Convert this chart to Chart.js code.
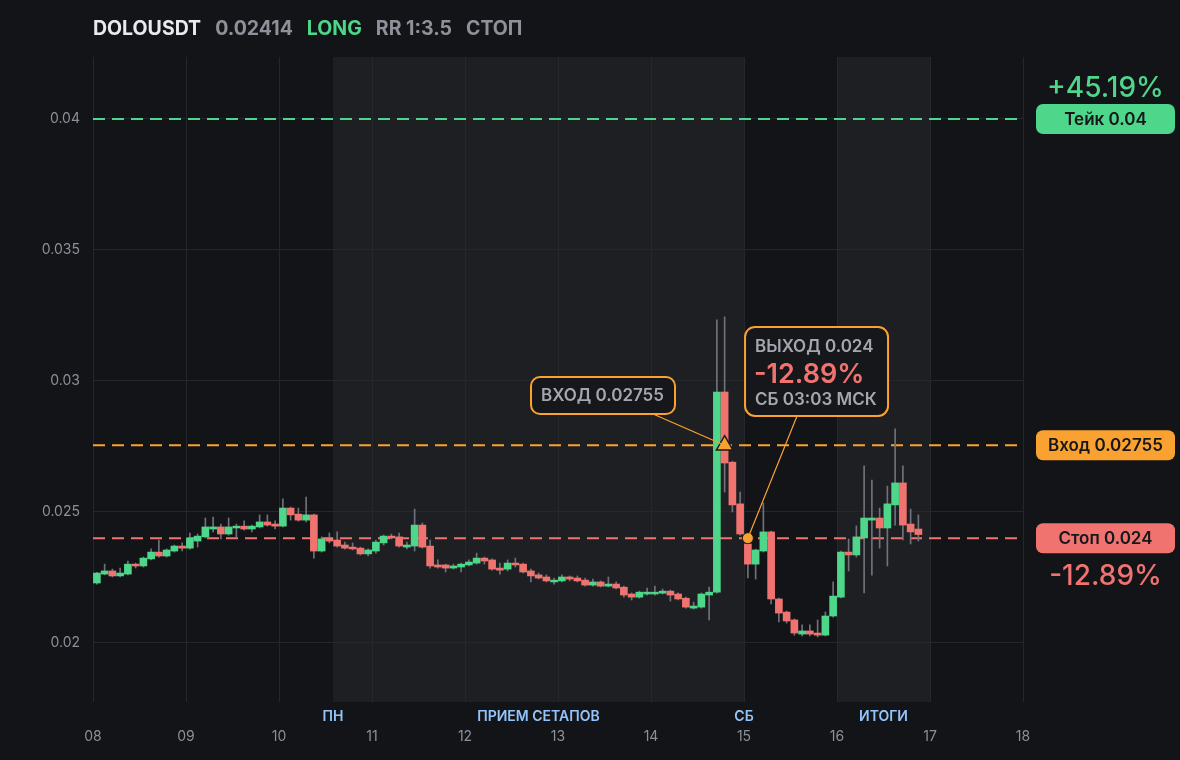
<!DOCTYPE html>
<html>
<head>
<meta charset="utf-8">
<script src="https://cdn.jsdelivr.net/npm/chart.js@4.4.1/dist/chart.umd.min.js"></script>
<style>
    html, body { margin: 0; padding: 0; background: #131418; }
    #wrap { position: relative; width: 1180px; height: 760px; }
    canvas { display: block; }
    #head {
        position: absolute; left: 93px; top: 16px;
        font: 700 19.5px Inter, sans-serif; line-height: 24px;
        display: flex; gap: 14px; color: #8e9199;
    }
    #head .sym { color: #e9eaec; }
    #head .side { color: #4ed68a; }
</style>
</head>
<body>
<div id="wrap">
    <canvas id="chart" width="1180" height="760"></canvas>
    <div id="head">
        <span class="sym">DOLOUSDT</span>
        <span id="last-price"></span>
        <span class="side">LONG</span>
        <span id="rr"></span>
        <span>СТОП</span>
    </div>
</div>
<script>
// 2h candles, 12 per day, first day = 08
const DAY_START = 8;
const CANDLES_PER_DAY = 12;

const opens = [
    0.02229, 0.02263, 0.02275, 0.02256, 0.02263, 0.02301, 0.02294, 0.02321, 0.02347, 0.02332, 0.02351, 0.02370,
    0.02362, 0.02389, 0.02405, 0.02435, 0.02443, 0.02416, 0.02439, 0.02446, 0.02435, 0.02443, 0.02462, 0.02454,
    0.02446, 0.02515, 0.02492, 0.02469, 0.02489, 0.02351, 0.02401, 0.02393, 0.02374, 0.02366, 0.02362, 0.02340,
    0.02351, 0.02382, 0.02408, 0.02405, 0.02366, 0.02370, 0.02450, 0.02370, 0.02298, 0.02298, 0.02286, 0.02290,
    0.02298, 0.02305, 0.02324, 0.02317, 0.02286, 0.02282, 0.02305, 0.02301, 0.02275, 0.02260, 0.02252, 0.02233,
    0.02237, 0.02252, 0.02248, 0.02240, 0.02221, 0.02233, 0.02217, 0.02225, 0.02213, 0.02187, 0.02175, 0.02187,
    0.02187, 0.02190, 0.02198, 0.02187, 0.02171, 0.02133, 0.02137, 0.02183, 0.02194, 0.02958, 0.02690, 0.02531,
    0.02378, 0.02301, 0.02351, 0.02424, 0.02168, 0.02118, 0.02088, 0.02034, 0.02046, 0.02038, 0.02030, 0.02103,
    0.02175, 0.02347, 0.02336, 0.02401, 0.02469, 0.02477, 0.02439, 0.02527, 0.02611, 0.02454, 0.02435
];
const highs = [
    0.02270, 0.02301, 0.02282, 0.02286, 0.02313, 0.02305, 0.02328, 0.02359, 0.02393, 0.02359, 0.02374, 0.02382,
    0.02420, 0.02416, 0.02477, 0.02481, 0.02454, 0.02477, 0.02454, 0.02466, 0.02450, 0.02489, 0.02489, 0.02466,
    0.02550, 0.02519, 0.02515, 0.02557, 0.02492, 0.02405, 0.02420, 0.02424, 0.02385, 0.02382, 0.02366, 0.02359,
    0.02393, 0.02412, 0.02416, 0.02420, 0.02385, 0.02511, 0.02458, 0.02393, 0.02317, 0.02301, 0.02301, 0.02305,
    0.02317, 0.02343, 0.02328, 0.02321, 0.02305, 0.02317, 0.02324, 0.02305, 0.02282, 0.02267, 0.02260, 0.02248,
    0.02260, 0.02256, 0.02256, 0.02248, 0.02244, 0.02237, 0.02252, 0.02233, 0.02217, 0.02191, 0.02198, 0.02210,
    0.02217, 0.02206, 0.02202, 0.02191, 0.02175, 0.02156, 0.02191, 0.02213, 0.03233, 0.03245, 0.02694, 0.02576,
    0.02401, 0.02358, 0.02534, 0.02427, 0.02171, 0.02122, 0.02092, 0.02069, 0.02069, 0.02088, 0.02118, 0.02233,
    0.02351, 0.02397, 0.02447, 0.02676, 0.02622, 0.02515, 0.02599, 0.02817, 0.02676, 0.02511, 0.02489
];
const lows = [
    0.02225, 0.02260, 0.02252, 0.02252, 0.02260, 0.02286, 0.02290, 0.02317, 0.02328, 0.02328, 0.02347, 0.02351,
    0.02358, 0.02366, 0.02401, 0.02424, 0.02397, 0.02412, 0.02405, 0.02431, 0.02424, 0.02439, 0.02446, 0.02435,
    0.02443, 0.02469, 0.02465, 0.02462, 0.02324, 0.02347, 0.02382, 0.02366, 0.02358, 0.02355, 0.02336, 0.02332,
    0.02343, 0.02374, 0.02397, 0.02366, 0.02359, 0.02351, 0.02362, 0.02286, 0.02286, 0.02271, 0.02282, 0.02271,
    0.02294, 0.02301, 0.02301, 0.02278, 0.02263, 0.02275, 0.02290, 0.02267, 0.02233, 0.02244, 0.02233, 0.02225,
    0.02233, 0.02237, 0.02233, 0.02217, 0.02217, 0.02214, 0.02214, 0.02206, 0.02175, 0.02164, 0.02171, 0.02183,
    0.02183, 0.02187, 0.02160, 0.02164, 0.02133, 0.02129, 0.02133, 0.02088, 0.02190, 0.02576, 0.02500, 0.02412,
    0.02248, 0.02244, 0.02347, 0.02149, 0.02080, 0.02076, 0.02030, 0.02027, 0.02027, 0.02023, 0.02027, 0.02099,
    0.02172, 0.02275, 0.02328, 0.02191, 0.02259, 0.02362, 0.02294, 0.02450, 0.02393, 0.02378, 0.02389
];
const closes = [
    0.02267, 0.02275, 0.02256, 0.02267, 0.02301, 0.02294, 0.02324, 0.02347, 0.02332, 0.02355, 0.02370, 0.02362,
    0.02401, 0.02408, 0.02443, 0.02443, 0.02416, 0.02443, 0.02446, 0.02435, 0.02446, 0.02462, 0.02450, 0.02446,
    0.02515, 0.02489, 0.02469, 0.02489, 0.02351, 0.02397, 0.02389, 0.02370, 0.02362, 0.02359, 0.02340, 0.02355,
    0.02385, 0.02408, 0.02401, 0.02370, 0.02374, 0.02450, 0.02366, 0.02294, 0.02290, 0.02286, 0.02294, 0.02301,
    0.02309, 0.02324, 0.02313, 0.02282, 0.02278, 0.02305, 0.02298, 0.02271, 0.02256, 0.02248, 0.02237, 0.02240,
    0.02252, 0.02244, 0.02237, 0.02221, 0.02233, 0.02217, 0.02225, 0.02210, 0.02183, 0.02175, 0.02194, 0.02194,
    0.02194, 0.02198, 0.02183, 0.02168, 0.02137, 0.02141, 0.02187, 0.02194, 0.02958, 0.02687, 0.02527, 0.02416,
    0.02301, 0.02355, 0.02424, 0.02168, 0.02114, 0.02084, 0.02038, 0.02046, 0.02034, 0.02030, 0.02103, 0.02179,
    0.02347, 0.02336, 0.02405, 0.02477, 0.02477, 0.02439, 0.02531, 0.02611, 0.02450, 0.02424, 0.02414
];

const dayTicks = [8, 9, 10, 11, 12, 13, 14, 15, 16, 17, 18];
const dayLabels = ['08', '09', '10', '11', '12', '13', '14', '15', '16', '17', '18'];
const priceTicks = [0.02, 0.025, 0.03, 0.035, 0.04];
const priceTickLabels = ['0.02', '0.025', '0.03', '0.035', '0.04'];

// trade levels
const TAKE = 0.04;
const ENTRY = 0.02755;
const STOP = 0.024;
const entryIndex = 81;
const exitIndex = 84;
const exitTime = 'СБ 03:03 МСК';

// shaded sessions (in days) and their captions
const bandStarts = [10.58, 16];
const bandEnds = [15, 17];
const sectionNames = ['ПН', 'ПРИЕМ СЕТАПОВ', 'СБ', 'ИТОГИ'];
const sectionAt = [10.58, 12.79, 15, 16.5];

// callout anchors (data units)
const entryBoxAt = { x: 13.484, y: 0.029447 };
const exitBoxAt = { x: 15.78, y: 0.030363 };

const C_GREEN = '#4ed68a';
const C_RED = '#f07370';
const C_ORANGE = '#f9a232';
const C_TEXT = '#8d9098';
const FONT = 'Inter, sans-serif';

const candleX = i => DAY_START + (i + 0.5) / CANDLES_PER_DAY;
const pct = v => (v - ENTRY) / ENTRY * 100;
const fmtPct = v => (v > 0 ? '+' : '-') + Math.abs(v).toFixed(2) + '%';

document.getElementById('last-price').textContent = closes[closes.length - 1].toFixed(5);
document.getElementById('rr').textContent = 'RR 1:' + ((TAKE - ENTRY) / (ENTRY - STOP)).toFixed(1);

function roundRect(ctx, x, y, w, h, r) {
    ctx.beginPath();
    ctx.moveTo(x + r, y);
    ctx.arcTo(x + w, y, x + w, y + h, r);
    ctx.arcTo(x + w, y + h, x, y + h, r);
    ctx.arcTo(x, y + h, x, y, r);
    ctx.arcTo(x, y, x + w, y, r);
    ctx.closePath();
}

function levelLine(value, color) {
    return {
        type: 'line',
        data: [{ x: 8, y: value }, { x: 18, y: value }],
        borderColor: color,
        borderWidth: 2,
        borderDash: [12, 7],
        pointRadius: 0,
        order: 3
    };
}

const decor = {
    id: 'decor',
    beforeDraw(chart) {
        const { ctx, chartArea: a, scales: { x } } = chart;
        ctx.save();
        ctx.fillStyle = '#1e1f23';
        bandStarts.forEach((s, i) => {
            const x0 = x.getPixelForValue(s);
            const x1 = x.getPixelForValue(bandEnds[i]);
            ctx.fillRect(x0, a.top, x1 - x0, a.bottom - a.top);
        });
        ctx.restore();
    },
    afterDraw(chart) {
        const { ctx, chartArea: a, scales: { x, y } } = chart;
        ctx.save();

        // session captions
        ctx.font = `600 14px ${FONT}`;
        ctx.fillStyle = '#93c5fd';
        ctx.textAlign = 'center';
        ctx.textBaseline = 'middle';
        sectionNames.forEach((name, i) => {
            ctx.fillText(name, x.getPixelForValue(sectionAt[i]), a.bottom + 15);
        });

        // callout connectors
        const ex = x.getPixelForValue(candleX(entryIndex));
        const ey = y.getPixelForValue(ENTRY);
        const xx = x.getPixelForValue(candleX(exitIndex));
        const xy = y.getPixelForValue(STOP);

        const eb = { w: 144, h: 37 };
        eb.x = x.getPixelForValue(entryBoxAt.x) - eb.w / 2;
        eb.y = y.getPixelForValue(entryBoxAt.y) - eb.h / 2;
        const xb = { w: 143, h: 89 };
        xb.x = x.getPixelForValue(exitBoxAt.x) - xb.w / 2;
        xb.y = y.getPixelForValue(exitBoxAt.y) - xb.h / 2;

        ctx.strokeStyle = C_ORANGE;
        ctx.lineWidth = 1.2;
        ctx.beginPath();
        ctx.moveTo(eb.x + 122, eb.y + eb.h);
        ctx.lineTo(ex, ey);
        ctx.moveTo(xb.x + 52, xb.y + xb.h);
        ctx.lineTo(xx, xy);
        ctx.stroke();

        // callout boxes
        ctx.lineWidth = 2;
        ctx.fillStyle = '#16171b';
        roundRect(ctx, eb.x, eb.y, eb.w, eb.h, 9);
        ctx.fill();
        ctx.stroke();
        roundRect(ctx, xb.x, xb.y, xb.w, xb.h, 10);
        ctx.fill();
        ctx.stroke();

        ctx.textAlign = 'left';
        ctx.textBaseline = 'alphabetic';
        ctx.fillStyle = '#a4a7af';
        ctx.font = `600 17px ${FONT}`;
        ctx.fillText('ВХОД ' + ENTRY, eb.x + 10, eb.y + 24);
        ctx.fillText('ВЫХОД ' + STOP, xb.x + 10, xb.y + 25);
        ctx.fillText(exitTime, xb.x + 10, xb.y + 78);
        ctx.fillStyle = C_RED;
        ctx.font = `600 27px ${FONT}`;
        ctx.fillText(fmtPct(pct(STOP)), xb.x + 9, xb.y + 56);

        // right side price tags
        const tagX = 1036, tagW = 139, tagH = 30;
        const cx = tagX + tagW / 2;
        const tags = [
            { v: TAKE, text: 'Тейк ' + TAKE, color: C_GREEN },
            { v: ENTRY, text: 'Вход ' + ENTRY, color: C_ORANGE },
            { v: STOP, text: 'Стоп ' + STOP, color: C_RED }
        ];
        tags.forEach(t => {
            const py = y.getPixelForValue(t.v);
            ctx.fillStyle = t.color;
            roundRect(ctx, tagX, py - tagH / 2, tagW, tagH, 7);
            ctx.fill();
            ctx.fillStyle = '#16171a';
            ctx.font = `600 17px ${FONT}`;
            ctx.textAlign = 'center';
            ctx.textBaseline = 'middle';
            ctx.fillText(t.text, cx, py + 1);
        });

        ctx.font = `500 28px ${FONT}`;
        ctx.textBaseline = 'alphabetic';
        ctx.fillStyle = C_GREEN;
        ctx.fillText(fmtPct(pct(TAKE)), cx, y.getPixelForValue(TAKE) - 22);
        ctx.fillStyle = C_RED;
        ctx.fillText(fmtPct(pct(STOP)), cx, y.getPixelForValue(STOP) + 47);

        ctx.restore();
    }
};

const bodyColors = opens.map((o, i) => closes[i] >= o ? C_GREEN : C_RED);

new Chart(document.getElementById('chart'), {
    type: 'bar',
    data: {
        datasets: [
            {
                type: 'line',
                data: [{ x: candleX(entryIndex), y: ENTRY }],
                showLine: false,
                pointStyle: 'triangle',
                pointRadius: 9.5,
                backgroundColor: C_ORANGE,
                borderColor: '#1b1b1b',
                borderWidth: 1.5,
                order: 0
            },
            {
                type: 'line',
                data: [{ x: candleX(exitIndex), y: STOP }],
                showLine: false,
                pointStyle: 'circle',
                pointRadius: 5.5,
                backgroundColor: C_ORANGE,
                borderColor: '#1b1b1b',
                borderWidth: 1,
                order: 0
            },
            {
                data: opens.map((o, i) => ({ x: candleX(i), y: [o, closes[i]] })),
                backgroundColor: bodyColors,
                barThickness: 7,
                grouped: false,
                order: 1
            },
            {
                data: lows.map((l, i) => ({ x: candleX(i), y: [l, highs[i]] })),
                backgroundColor: '#6f727a',
                barThickness: 1,
                grouped: false,
                order: 2
            },
            levelLine(TAKE, C_GREEN),
            levelLine(ENTRY, C_ORANGE),
            levelLine(STOP, C_RED)
        ]
    },
    options: {
        responsive: false,
        animation: false,
        layout: { padding: { top: 57, right: 157, left: 0, bottom: 0 } },
        plugins: {
            legend: { display: false },
            tooltip: { enabled: false }
        },
        scales: {
            x: {
                type: 'linear',
                min: 8,
                max: 18,
                offset: false,
                grid: { color: '#26272c', drawTicks: false, offset: false },
                border: { display: false },
                afterBuildTicks: s => { s.ticks = dayTicks.map(v => ({ value: v })); },
                afterFit: s => { s.height = 58; },
                ticks: {
                    color: C_TEXT,
                    font: { family: FONT, size: 14 },
                    padding: 26,
                    maxRotation: 0,
                    callback: v => dayLabels[dayTicks.indexOf(v)]
                }
            },
            y: {
                min: 0.017748,
                max: 0.042366,
                grid: { color: '#26272c', drawTicks: false },
                border: { display: false },
                afterBuildTicks: s => { s.ticks = priceTicks.map(v => ({ value: v })); },
                afterFit: s => { s.width = 93; },
                ticks: {
                    color: C_TEXT,
                    font: { family: FONT, size: 14 },
                    padding: 13,
                    callback: v => priceTickLabels[priceTicks.indexOf(v)]
                }
            }
        }
    },
    plugins: [decor]
});
</script>
</body>
</html>
